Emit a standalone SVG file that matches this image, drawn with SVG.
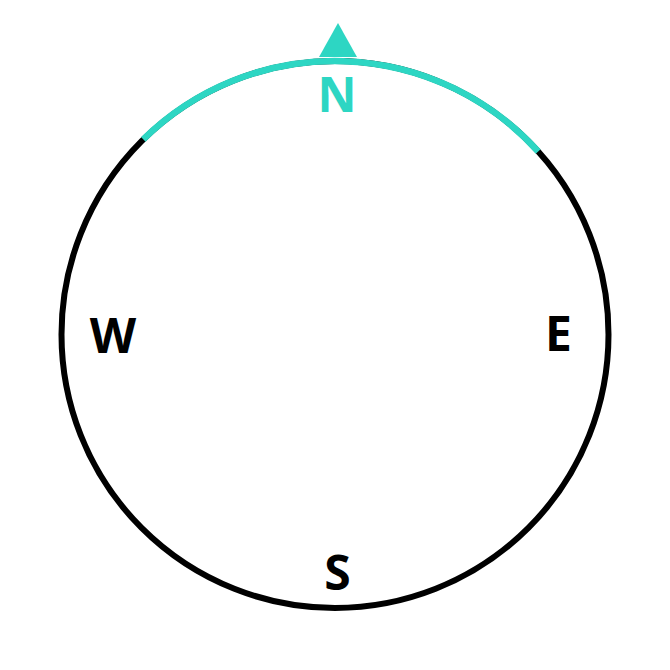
<svg xmlns="http://www.w3.org/2000/svg" width="670" height="670" viewBox="0 0 670 670">
  <style>
    .lbl { font-family: "Open Sans", "DejaVu Sans", sans-serif; font-weight: 700; font-size: 48px; text-anchor: middle; }
    .dark { fill: #000; }
    .teal { fill: #2dd6c3; }
  </style>
  <rect width="670" height="670" fill="#fff"/>
  <g id="connectors">
    <circle id="ring" cx="335" cy="334.5" r="273.5" fill="none" stroke="#000" stroke-width="6"/>
    <path id="north-arc" d="M143.3,139.4 A273.5,273.5 0 0 1 538.2,151.5" fill="none" stroke="#2dd6c3" stroke-width="6.5"/>
  </g>
  <g id="pointer">
    <polygon points="338,23 319,57 357,57" fill="#2dd6c3"/>
  </g>
  <g id="north"><text class="lbl teal" x="337" y="112">N</text></g>
  <g id="west"><text class="lbl dark" x="113" y="353">W</text></g>
  <g id="east"><text class="lbl dark" x="558.5" y="351">E</text></g>
  <g id="south"><text class="lbl dark" x="337.5" y="590">S</text></g>
</svg>
